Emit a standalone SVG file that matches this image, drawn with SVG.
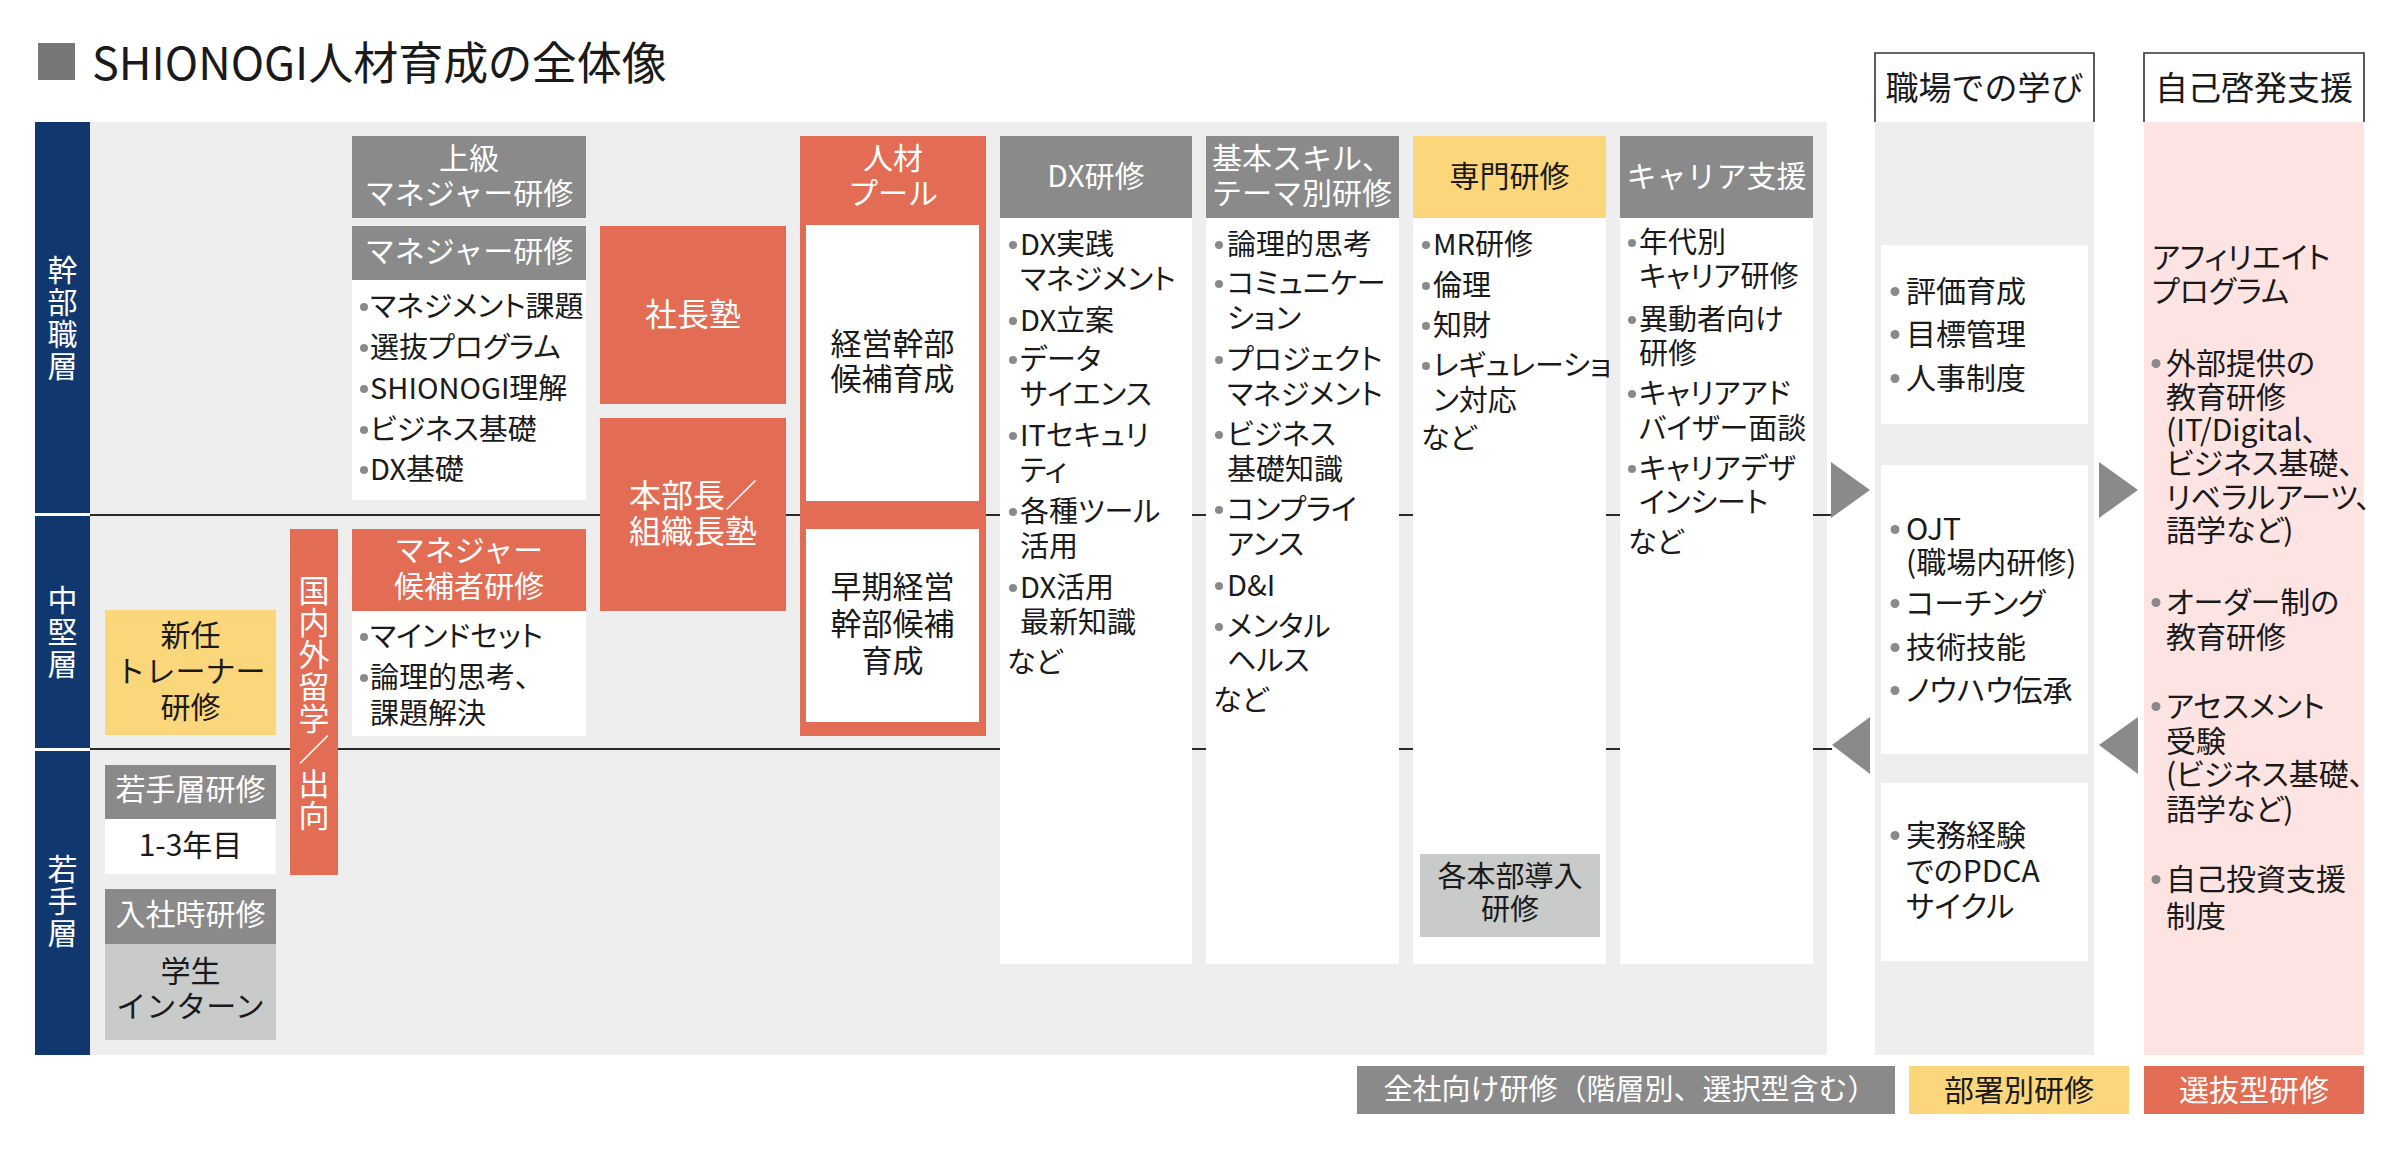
<svg xmlns="http://www.w3.org/2000/svg" width="2407" height="1169" viewBox="0 0 2407 1169">
<style>
text{font-family:"Noto Sans CJK JP","Noto Sans",sans-serif;fill:#1a1a1a}
.p{font-feature-settings:"palt"}
.v{writing-mode:vertical-rl;letter-spacing:2px}
.w{fill:#ffffff}
.c{text-anchor:middle}
.f28{font-size:29px}
.f30{font-size:30px}
.f31{font-size:31px}
.f32{font-size:32px}
.f33{font-size:33px}
.gray{fill:#8a8a8a}
.org{fill:#e36c54}
.yel{fill:#fbd67b}
.lg{fill:#c9caca}
.wb{fill:#ffffff}
.bg{fill:#eeeeee}
.navy{fill:#10386f}
.dot{fill:#8a8a8a}
.arr{fill:#8a8a8a}
.div{stroke:#2a2a2a;stroke-width:2;fill:none}
.hd{fill:#ffffff;stroke:#333333;stroke-width:1.6}
</style>

<g id="title">
<rect x="38" y="43" width="37" height="37" fill="#777777"/>
<text class="p" x="92" y="80" style="font-size:45px">SHIONOGI人材育成の全体像</text>
</g>

<g id="backgrounds">
<rect class="bg" x="90" y="122" width="1737" height="933"/>
<rect class="bg" x="1875" y="122" width="219" height="933"/>
<rect x="2144" y="122" width="220" height="933" fill="#fde4e2"/>
</g>

<g id="connectors">
<line class="div" x1="90" y1="515" x2="1831" y2="515"/>
<line class="div" x1="90" y1="749" x2="1832" y2="749"/>
<polygon class="arr" points="1831,462 1870,490 1831,518"/>
<polygon class="arr" points="1870,717 1832,745 1870,774"/>
<polygon class="arr" points="2099,462 2138,490 2099,518"/>
<polygon class="arr" points="2138,717 2099,745 2138,774"/>
</g>

<g id="layer-exec">
<rect class="navy" x="35" y="122" width="55" height="391"/>
<text class="w v f30" x="62.5" y="255">幹部職層</text>
</g>
<g id="layer-mid">
<rect class="navy" x="35" y="516" width="55" height="232"/>
<text class="w v f30" x="62.5" y="585">中堅層</text>
</g>
<g id="layer-young">
<rect class="navy" x="35" y="751" width="55" height="304"/>
<text class="w v f30" x="62.5" y="854">若手層</text>
</g>

<g id="senior-manager">
<rect class="gray" x="352" y="136" width="234" height="82"/>
<text class="w c f30"><tspan x="469" y="169">上級</tspan><tspan x="469" y="204">マネジャー研修</tspan></text>
</g>

<g id="manager">
<rect class="gray" x="352" y="226" width="234" height="54"/>
<text class="w c f30" x="469" y="262">マネジャー研修</text>
<rect class="wb" x="352" y="280" width="234" height="220"/>
<circle class="dot" cx="364" cy="307" r="4"/>
<circle class="dot" cx="364" cy="348" r="4"/>
<circle class="dot" cx="364" cy="389" r="4"/>
<circle class="dot" cx="364" cy="430" r="4"/>
<circle class="dot" cx="364" cy="470" r="4"/>
<text class="p f28"><tspan x="370" y="317">マネジメント課題</tspan><tspan x="370" y="358">選抜プログラム</tspan><tspan x="370" y="399">SHIONOGI理解</tspan><tspan x="370" y="440">ビジネス基礎</tspan><tspan x="370" y="480">DX基礎</tspan></text>
</g>

<g id="president-school">
<rect class="org" x="600" y="226" width="186" height="178"/>
<text class="w c f32" x="693" y="326">社長塾</text>
</g>

<g id="division-school">
<rect class="org" x="600" y="418" width="186" height="193"/>
<text class="w c f32"><tspan x="693" y="507">本部長／</tspan><tspan x="693" y="543">組織長塾</tspan></text>
</g>

<g id="study-abroad">
<rect class="org" x="290" y="529" width="48" height="346"/>
<text class="w v f31" x="314" y="574.5" style="letter-spacing:1px">国内外留学</text>
<text class="w c f31" x="314" y="761">／</text>
<text class="w v f31" x="314" y="767.5" style="letter-spacing:1px">出向</text>
</g>

<g id="manager-candidate">
<rect class="org" x="352" y="529" width="234" height="82"/>
<text class="w c f30"><tspan x="469" y="561">マネジャー</tspan><tspan x="469" y="597">候補者研修</tspan></text>
<rect class="wb" x="352" y="611" width="234" height="125"/>
<circle class="dot" cx="364" cy="637" r="4"/>
<circle class="dot" cx="364" cy="678" r="4"/>
<text class="p f28"><tspan x="370" y="647">マインドセット</tspan><tspan x="370" y="688">論理的思考、</tspan><tspan x="370" y="724">課題解決</tspan></text>
</g>

<g id="new-trainer">
<rect class="yel" x="105" y="610" width="171" height="125"/>
<text class="c f30"><tspan x="190.5" y="646">新任</tspan><tspan x="190.5" y="682">トレーナー</tspan><tspan x="190.5" y="718">研修</tspan></text>
</g>

<g id="young-training">
<rect class="gray" x="105" y="765" width="171" height="54"/>
<text class="w c f30" x="190.5" y="800">若手層研修</text>
<rect class="wb" x="105" y="819" width="171" height="55"/>
<text class="c f30" x="190.5" y="856">1-3年目</text>
</g>

<g id="entry-training">
<rect class="gray" x="105" y="889" width="171" height="55"/>
<text class="w c f30" x="190.5" y="925">入社時研修</text>
<rect class="lg" x="105" y="944" width="171" height="96"/>
<text class="c f30"><tspan x="190.5" y="982">学生</tspan><tspan x="190.5" y="1017">インターン</tspan></text>
</g>

<g id="talent-pool">
<rect class="org" x="800" y="136" width="186" height="600"/>
<text class="w c f30"><tspan x="893" y="169">人材</tspan><tspan x="893" y="204">プール</tspan></text>
<rect class="wb" x="806" y="225" width="173" height="276"/>
<text class="c f31"><tspan x="892.5" y="355">経営幹部</tspan><tspan x="892.5" y="390">候補育成</tspan></text>
<rect class="wb" x="806" y="529" width="173" height="193"/>
<text class="c f31"><tspan x="892.5" y="598">早期経営</tspan><tspan x="892.5" y="635">幹部候補</tspan><tspan x="892.5" y="672">育成</tspan></text>
</g>

<g id="dx-training">
<rect class="gray" x="1000" y="136" width="192" height="82"/>
<text class="w c f30" x="1096" y="187">DX研修</text>
<rect class="wb" x="1000" y="218" width="192" height="746"/>
<circle class="dot" cx="1013" cy="245" r="4"/>
<circle class="dot" cx="1013" cy="321" r="4"/>
<circle class="dot" cx="1013" cy="360" r="4"/>
<circle class="dot" cx="1013" cy="436" r="4"/>
<circle class="dot" cx="1013" cy="512" r="4"/>
<circle class="dot" cx="1013" cy="588" r="4"/>
<text class="p f28"><tspan x="1020" y="255">DX実践</tspan><tspan x="1020" y="290">マネジメント</tspan><tspan x="1020" y="331">DX立案</tspan><tspan x="1020" y="370">データ</tspan><tspan x="1020" y="405">サイエンス</tspan><tspan x="1020" y="446">ITセキュリ</tspan><tspan x="1020" y="481">ティ</tspan><tspan x="1020" y="522">各種ツール</tspan><tspan x="1020" y="557">活用</tspan><tspan x="1020" y="598">DX活用</tspan><tspan x="1020" y="633">最新知識</tspan><tspan x="1007" y="673">など</tspan></text>
</g>

<g id="basic-skill">
<rect class="gray" x="1206" y="136" width="193" height="82"/>
<text class="w c f30"><tspan x="1302" y="169">基本スキル、</tspan><tspan x="1302" y="204">テーマ別研修</tspan></text>
<rect class="wb" x="1206" y="218" width="193" height="746"/>
<circle class="dot" cx="1219" cy="245" r="4"/>
<circle class="dot" cx="1219" cy="284" r="4"/>
<circle class="dot" cx="1219" cy="360" r="4"/>
<circle class="dot" cx="1219" cy="435" r="4"/>
<circle class="dot" cx="1219" cy="510" r="4"/>
<circle class="dot" cx="1219" cy="586" r="4"/>
<circle class="dot" cx="1219" cy="627" r="4"/>
<text class="p f28"><tspan x="1227" y="255">論理的思考</tspan><tspan x="1227" y="294">コミュニケー</tspan><tspan x="1227" y="329">ション</tspan><tspan x="1227" y="370">プロジェクト</tspan><tspan x="1227" y="405">マネジメント</tspan><tspan x="1227" y="445">ビジネス</tspan><tspan x="1227" y="480">基礎知識</tspan><tspan x="1227" y="520">コンプライ</tspan><tspan x="1227" y="555">アンス</tspan><tspan x="1227" y="596">D&amp;I</tspan><tspan x="1227" y="637">メンタル</tspan><tspan x="1227" y="671">ヘルス</tspan><tspan x="1213" y="711">など</tspan></text>
</g>

<g id="special-training">
<rect class="yel" x="1413" y="136" width="193" height="82"/>
<text class="c f30" x="1509.5" y="187">専門研修</text>
<rect class="wb" x="1413" y="218" width="193" height="746"/>
<circle class="dot" cx="1426" cy="245" r="4"/>
<circle class="dot" cx="1426" cy="286" r="4"/>
<circle class="dot" cx="1426" cy="326" r="4"/>
<circle class="dot" cx="1426" cy="366" r="4"/>
<text class="p f28"><tspan x="1433" y="255">MR研修</tspan><tspan x="1433" y="296">倫理</tspan><tspan x="1433" y="336">知財</tspan><tspan x="1433" y="376">レギュレーショ</tspan><tspan x="1433" y="411">ン対応</tspan><tspan x="1421" y="449">など</tspan></text>
</g>

<g id="division-intro">
<rect class="lg" x="1420" y="854" width="180" height="83"/>
<text class="c f28"><tspan x="1510" y="887">各本部導入</tspan><tspan x="1510" y="920">研修</tspan></text>
</g>

<g id="career-support">
<rect class="gray" x="1620" y="136" width="193" height="82"/>
<text class="w c f30" x="1716.5" y="187">キャリア支援</text>
<rect class="wb" x="1620" y="218" width="193" height="746"/>
<circle class="dot" cx="1632" cy="243" r="4"/>
<circle class="dot" cx="1632" cy="320" r="4"/>
<circle class="dot" cx="1632" cy="394" r="4"/>
<circle class="dot" cx="1632" cy="469" r="4"/>
<text class="p f28"><tspan x="1639" y="253">年代別</tspan><tspan x="1639" y="287">キャリア研修</tspan><tspan x="1639" y="330">異動者向け</tspan><tspan x="1639" y="364">研修</tspan><tspan x="1639" y="404">キャリアアド</tspan><tspan x="1639" y="439">バイザー面談</tspan><tspan x="1639" y="479">キャリアデザ</tspan><tspan x="1639" y="513">インシート</tspan><tspan x="1628" y="553">など</tspan></text>
</g>

<g id="workplace-header">
<path class="hd" d="M1875,122 V53 H2094 V122"/>
<text class="c f33" x="1984.5" y="100">職場での学び</text>
</g>

<g id="workplace-eval">
<rect class="wb" x="1881" y="245" width="207" height="179"/>
<circle class="dot" cx="1895" cy="291.5" r="4.5"/>
<circle class="dot" cx="1895" cy="334.5" r="4.5"/>
<circle class="dot" cx="1895" cy="378.5" r="4.5"/>
<text class="p f30"><tspan x="1906" y="302">評価育成</tspan><tspan x="1906" y="345">目標管理</tspan><tspan x="1906" y="389">人事制度</tspan></text>
</g>

<g id="workplace-ojt">
<rect class="wb" x="1881" y="465" width="207" height="289"/>
<circle class="dot" cx="1895" cy="529.5" r="4.5"/>
<circle class="dot" cx="1895" cy="603.5" r="4.5"/>
<circle class="dot" cx="1895" cy="647.5" r="4.5"/>
<circle class="dot" cx="1895" cy="690.5" r="4.5"/>
<text class="p f30"><tspan x="1906" y="540">OJT</tspan><tspan x="1906" y="573">(職場内研修)</tspan><tspan x="1906" y="614">コーチング</tspan><tspan x="1906" y="658">技術技能</tspan><tspan x="1906" y="701">ノウハウ伝承</tspan></text>
</g>

<g id="workplace-pdca">
<rect class="wb" x="1881" y="783" width="207" height="178"/>
<circle class="dot" cx="1895" cy="835.5" r="4.5"/>
<text class="p f30"><tspan x="1906" y="846">実務経験</tspan><tspan x="1906" y="882">でのPDCA</tspan><tspan x="1906" y="917">サイクル</tspan></text>
</g>

<g id="self-dev-header">
<path class="hd" d="M2144,122 V53 H2364 V122"/>
<text class="c f33" x="2254" y="100">自己啓発支援</text>
</g>

<g id="self-dev">
<circle class="dot" cx="2156" cy="363.5" r="4.5"/>
<circle class="dot" cx="2156" cy="602.5" r="4.5"/>
<circle class="dot" cx="2156" cy="706.5" r="4.5"/>
<circle class="dot" cx="2156" cy="879.5" r="4.5"/>
<text class="p f30"><tspan x="2152" y="268">アフィリエイト</tspan><tspan x="2152" y="302">プログラム</tspan><tspan x="2166" y="374">外部提供の</tspan><tspan x="2166" y="408">教育研修</tspan><tspan x="2166" y="441">(IT/Digital、</tspan><tspan x="2166" y="474">ビジネス基礎、</tspan><tspan x="2166" y="508">リベラルアーツ、</tspan><tspan x="2166" y="541">語学など)</tspan><tspan x="2166" y="613">オーダー制の</tspan><tspan x="2166" y="648">教育研修</tspan><tspan x="2166" y="717">アセスメント</tspan><tspan x="2166" y="752">受験</tspan><tspan x="2166" y="785">(ビジネス基礎、</tspan><tspan x="2166" y="820">語学など)</tspan><tspan x="2166" y="890">自己投資支援</tspan><tspan x="2166" y="927">制度</tspan></text>
</g>

<g id="legend">
<rect class="gray" x="1357" y="1066" width="538" height="48"/>
<text class="w c" style="font-size:29px" x="1630" y="1100">全社向け研修（階層別、選択型含む）</text>
<rect class="yel" x="1909" y="1066" width="220" height="48"/>
<text class="c f30" x="2019" y="1101">部署別研修</text>
<rect class="org" x="2144" y="1066" width="220" height="48"/>
<text class="w c f30" x="2254" y="1101">選抜型研修</text>
</g>
</svg>
